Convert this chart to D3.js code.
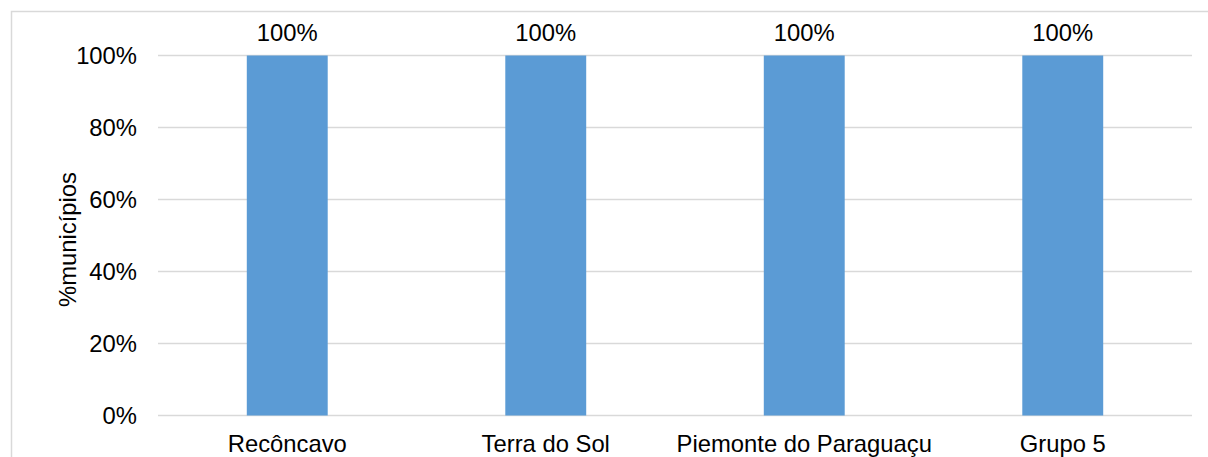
<!DOCTYPE html>
<html>
<head>
<meta charset="utf-8">
<script src="https://cdn.jsdelivr.net/npm/d3@7"></script>
<style>
  html, body { margin: 0; padding: 0; background: #fff; }
  svg { display: block; font-family: "Liberation Sans", Arial, sans-serif; }
</style>
</head>
<body>
<svg id="chart" width="1208" height="457"></svg>
<script>
// Share of municipalities per territory
const categories = ["Recôncavo", "Terra do Sol", "Piemonte do Paraguaçu", "Grupo 5"];
const values = [1.0, 1.0, 1.0, 1.0];
const yTicks = [0, 0.2, 0.4, 0.6, 0.8, 1.0];
const yTitle = "%municípios";

const svg = d3.select("#chart");
const W = 1208, H = 457;
const plot = { left: 158, right: 1192, top: 55.5, bottom: 415.5 };
const fontSize = 23.8;
const fmt = d3.format(".0%");

// chart frame
svg.append("rect")
  .attr("x", 11.5).attr("y", 11.5)
  .attr("width", W + 10).attr("height", H + 10)
  .attr("fill", "none").attr("stroke", "#d9d9d9").attr("stroke-width", 1.5);

const pad = 0.687;
const x = d3.scaleBand().domain(categories)
  .range([plot.left, plot.right])
  .paddingInner(pad).paddingOuter(pad / 2);
const y = d3.scaleLinear().domain([0, 1]).range([plot.bottom, plot.top]);

// gridlines
svg.append("g").selectAll("line").data(yTicks).join("line")
  .attr("x1", plot.left).attr("x2", plot.right)
  .attr("y1", d => y(d)).attr("y2", d => y(d))
  .attr("stroke", "#d9d9d9").attr("stroke-width", 1.3);

// y axis labels
const yAxis = d3.axisLeft(y).tickValues(yTicks).tickFormat(fmt).tickSize(0).tickPadding(21);
const gy = svg.append("g").attr("transform", `translate(${plot.left},0)`).call(yAxis);
gy.select(".domain").remove();
gy.selectAll("text").attr("font-size", fontSize).attr("fill", "#000")
  .attr("font-family", "Liberation Sans, Arial, sans-serif");

// bars
svg.append("g").selectAll("rect").data(values).join("rect")
  .attr("x", (d, i) => x(categories[i]))
  .attr("width", x.bandwidth())
  .attr("y", d => y(d))
  .attr("height", d => y(0) - y(d))
  .attr("fill", "#5b9bd5");

// value labels
svg.append("g").selectAll("text").data(values).join("text")
  .attr("x", (d, i) => x(categories[i]) + x.bandwidth() / 2)
  .attr("y", d => y(d) - 15)
  .attr("text-anchor", "middle")
  .attr("font-size", fontSize)
  .attr("fill", "#000")
  .text(d => fmt(d));

// x axis labels
const xAxis = d3.axisBottom(x).tickSize(0).tickPadding(20);
const gx = svg.append("g").attr("transform", `translate(0,${plot.bottom})`).call(xAxis);
gx.select(".domain").remove();
gx.selectAll("text").attr("font-size", fontSize).attr("fill", "#000")
  .attr("font-family", "Liberation Sans, Arial, sans-serif");

// y axis title
svg.append("text")
  .attr("transform", `translate(76,${(plot.top + plot.bottom) / 2 + 4}) rotate(-90)`)
  .attr("text-anchor", "middle")
  .attr("font-size", fontSize)
  .attr("fill", "#000")
  .text(yTitle);
</script>
</body>
</html>
